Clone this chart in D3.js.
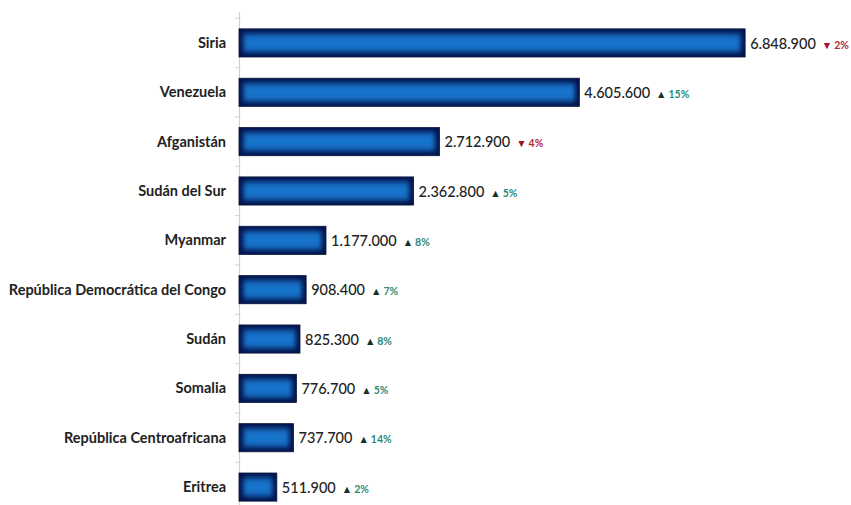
<!DOCTYPE html>
<html>
<head>
<meta charset="utf-8">
<script src="https://cdn.jsdelivr.net/npm/d3@7"></script>
<style>
  body { margin: 0; background: #fff; }
  svg { display: block; }
</style>
</head>
<body>
<div id="chart"></div>
<script>
var countries = ['Siria', 'Venezuela', 'Afganistán', 'Sudán del Sur', 'Myanmar',
    'República Democrática del Congo', 'Sudán', 'Somalia', 'República Centroafricana', 'Eritrea'];
var refugees = [6848900, 4605600, 2712900, 2362800, 1177000, 908400, 825300, 776700, 737700, 511900];
var changes = [-2, 15, -4, 5, 8, 7, 8, 5, 14, 2];

var W = 851, H = 505;
var left = 239;

var svg = d3.select('#chart').append('svg').attr('width', W).attr('height', H);

var defs = svg.append('defs');
var grad = defs.append('linearGradient').attr('id', 'innerGrad')
    .attr('x1', 0).attr('x2', 0).attr('y1', 0).attr('y2', 1);
grad.append('stop').attr('offset', '0%').attr('stop-color', '#1060b4');
grad.append('stop').attr('offset', '50%').attr('stop-color', '#1a7ad2');
grad.append('stop').attr('offset', '100%').attr('stop-color', '#1060b4');
defs.append('filter').attr('id', 'glow')
    .attr('x', '-20%').attr('y', '-50%').attr('width', '140%').attr('height', '200%')
    .append('feGaussianBlur').attr('stdDeviation', 2.4);

var x = d3.scaleLinear().domain([0, 1000000]).range([left, left + 73.9]);
var y = d3.scaleBand().domain(countries).range([19, 511]).paddingInner(0.43).paddingOuter(0.2);

// axis line and tick marks
svg.append('line')
    .attr('x1', left + 0.5).attr('x2', left + 0.5)
    .attr('y1', 12).attr('y2', H)
    .attr('stroke', '#cfcfd4').attr('stroke-width', 1.2);

var step = y.step();
var tickYs = countries.map(function(c) { return y(c) - (step - y.bandwidth()) / 2; });
tickYs.push(y(countries[countries.length - 1]) + y.bandwidth() + (step - y.bandwidth()) / 2);
svg.selectAll('.tick').data(tickYs).enter().append('line')
    .attr('class', 'tick')
    .attr('x1', left - 4).attr('x2', left)
    .attr('y1', function(d) { return d; }).attr('y2', function(d) { return d; })
    .attr('stroke', '#cfcfd4').attr('stroke-width', 1);

// category labels
svg.selectAll('.label').data(countries).enter().append('text')
    .attr('class', 'label')
    .attr('x', 226)
    .attr('y', function(d) { return y(d) + y.bandwidth() / 2; })
    .attr('dy', '0.35em')
    .attr('text-anchor', 'end')
    .style('font-family', 'Lato, sans-serif')
    .style('font-weight', 700)
    .style('font-size', '14.5px')
    .style('fill', '#222')
    .text(function(d) { return d; });

// bars: dark base with a blurred lighter core for the inner glow
var bars = svg.selectAll('.bar').data(countries).enter().append('g').attr('class', 'bar');
bars.append('rect')
    .attr('x', left)
    .attr('y', function(d) { return y(d); })
    .attr('width', function(d, i) { return x(refugees[i]) - left; })
    .attr('height', y.bandwidth())
    .attr('fill', '#04144c')
    .attr('stroke', '#0a1238').attr('stroke-width', 0.8);
bars.append('rect')
    .attr('x', left + 4.5)
    .attr('y', function(d) { return y(d) + 4.5; })
    .attr('width', function(d, i) { return x(refugees[i]) - left - 9; })
    .attr('height', y.bandwidth() - 9)
    .attr('fill', 'url(#innerGrad)')
    .attr('filter', 'url(#glow)');

var fmt = function(v) { return d3.format(',')(v).replace(/,/g, '.'); };

// value and change labels
var lbl = svg.selectAll('.val').data(countries).enter().append('text')
    .attr('class', 'val')
    .attr('x', function(d, i) { return x(refugees[i]) + 5; })
    .attr('y', function(d) { return y(d) + y.bandwidth() / 2; })
    .attr('dy', '0.35em')
    .style('font-family', 'Lato, sans-serif');

lbl.append('tspan')
    .style('font-size', '14.5px')
    .style('font-weight', 500)
    .style('fill', '#222')
    .text(function(d, i) { return fmt(refugees[i]); });

lbl.append('tspan')
    .attr('dx', 6)
    .style('font-size', '10.5px')
    .style('fill', function(d, i) { return changes[i] < 0 ? '#a5122a' : '#16302a'; })
    .text(function(d, i) { return changes[i] < 0 ? '▼' : '▲'; });

lbl.append('tspan')
    .attr('dx', 2)
    .style('font-size', '10.5px')
    .style('font-weight', 700)
    .style('fill', function(d, i) { return changes[i] < 0 ? '#b0283c' : '#2a8a78'; })
    .text(function(d, i) { return Math.abs(changes[i]) + '%'; });
</script>
</body>
</html>
